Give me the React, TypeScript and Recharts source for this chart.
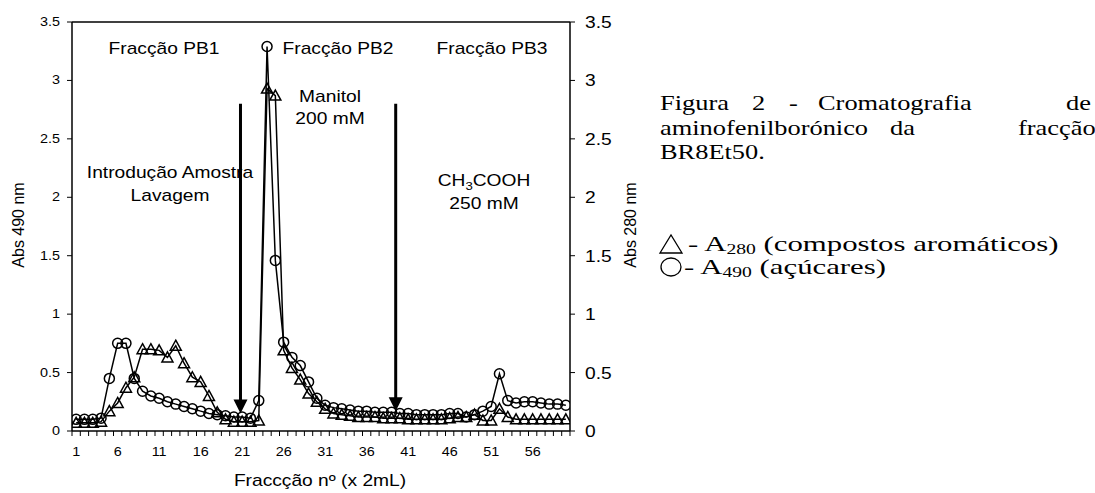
import React from 'react'
import { LineChart, Line, XAxis, YAxis, ReferenceLine } from 'recharts'

// fraction numbers (x 2 mL)
const fractions = Array.from({ length: 60 }, (_, i) => i + 1)

// Abs 490 nm (circles) - sugars
const a490 = [
  0.1, 0.1, 0.1, 0.11, 0.45, 0.75, 0.75, 0.45, 0.34, 0.3,
  0.28, 0.25, 0.23, 0.21, 0.19, 0.17, 0.15, 0.14, 0.13, 0.12,
  0.12, 0.11, 0.26, 3.29, 1.46, 0.76, 0.63, 0.56, 0.42, 0.28,
  0.22, 0.2, 0.19, 0.18, 0.17, 0.17, 0.16, 0.16, 0.16, 0.15,
  0.15, 0.14, 0.14, 0.14, 0.14, 0.15, 0.15, 0.12, 0.14, 0.17,
  0.21, 0.49, 0.26, 0.24, 0.25, 0.25, 0.24, 0.23, 0.23, 0.22,
]

// Abs 280 nm (triangles) - aromatics
const a280 = [
  0.07, 0.07, 0.07, 0.08, 0.17, 0.24, 0.37, 0.46, 0.7, 0.7,
  0.69, 0.63, 0.73, 0.58, 0.46, 0.42, 0.3, 0.16, 0.1, 0.08,
  0.08, 0.08, 0.09, 2.93, 2.87, 0.69, 0.54, 0.44, 0.32, 0.25,
  0.19, 0.15, 0.14, 0.13, 0.12, 0.12, 0.12, 0.11, 0.11, 0.11,
  0.1, 0.1, 0.1, 0.1, 0.1, 0.11, 0.12, 0.12, 0.14, 0.09,
  0.09, 0.19, 0.12, 0.1, 0.1, 0.1, 0.1, 0.1, 0.1, 0.1,
]

const xLabelTicks = [1, 6, 11, 16, 21, 26, 31, 36, 41, 46, 51, 56]
const xBoundaryTicks = Array.from({ length: 61 }, (_, i) => i + 0.5)
const yTicks = [0, 0.5, 1, 1.5, 2, 2.5, 3, 3.5]

// arrows marking buffer changes (fraction, top, tip)
const arrows = [
  { x: 20.8, top: 2.8, tip: 0.15 },
  { x: 39.5, top: 2.8, tip: 0.17 },
]

const chartData = fractions.map((f, i) => ({ f, a490: a490[i], a280: a280[i] }))

const SANS = '"Liberation Sans", Arial, Helvetica, sans-serif'
const SERIF = '"Liberation Serif", "Times New Roman", serif'
const SX = 1.2
const CAP_SX = 1.2
const LEG_SX = 1.4

const XTick = ({ x, y, payload }: any) => {
  const v = payload.value
  if (v % 1 !== 0) return <line x1={x} x2={x} y1={y} y2={y + 5} stroke="#000" strokeWidth={1} />
  return (
    <text transform={`translate(${x},${y + 25}) scale(${SX},1)`} textAnchor="middle" fontSize={12} fontFamily={SANS} fill="#000">
      {v}
    </text>
  )
}

const LeftTick = ({ x, y, payload }: any) => (
  <text transform={`translate(${x},${y + 4}) scale(${SX},1)`} textAnchor="end" fontSize={12} fontFamily={SANS} fill="#000">
    {payload.value}
  </text>
)

const RightTick = ({ x, y, payload }: any) => (
  <text transform={`translate(${x},${y + 6}) scale(${SX},1)`} textAnchor="start" fontSize={16} fontFamily={SANS} fill="#000">
    {payload.value}
  </text>
)

const CircleDot = (props: any) => {
  const { cx, cy, index } = props
  if (cx == null || cy == null) return <g key={index} />
  return <circle key={index} cx={cx} cy={cy} r={5} fill="none" stroke="#000" strokeWidth={1.5} />
}

const TriangleDot = (props: any) => {
  const { cx, cy, index } = props
  if (cx == null || cy == null) return <g key={index} />
  const pts = `${cx},${cy - 5.5} ${cx + 5.5},${cy + 4.5} ${cx - 5.5},${cy + 4.5}`
  return <polygon key={index} points={pts} fill="none" stroke="#000" strokeWidth={1.5} />
}

const Arrow = (props: any) => {
  const { x1, y1, x2, y2 } = props
  if (x1 == null) return null
  return (
    <g>
      <line x1={x1} y1={y1} x2={x2} y2={y2 - 12} stroke="#000" strokeWidth={3} />
      <polygon points={`${x2 - 7},${y2 - 14} ${x2 + 7},${y2 - 14} ${x2},${y2}`} fill="#000" />
    </g>
  )
}

const T = ({ x, y, size = 16, anchor = 'middle', children }: any) => (
  <text transform={`translate(${x},${y}) scale(${SX},1)`} textAnchor={anchor} fontSize={size} fontFamily={SANS} fill="#000">
    {children}
  </text>
)

const W = ({ x, y, sx = CAP_SX, children }: any) => (
  <text transform={`translate(${x},${y}) scale(${sx},1)`} fontSize={22} fontFamily={SERIF} fill="#000">
    {children}
  </text>
)

export default function App() {
  return (
    <div style={{ position: 'absolute', left: 0, top: 0, width: 1095, height: 493, background: '#fff', overflow: 'hidden' }}>
      <div style={{ position: 'absolute', left: 0, top: 0 }}>
        <LineChart width={640} height={493} data={chartData} margin={{ top: 22, right: 20, left: 32, bottom: 32 }}>
          <XAxis
            dataKey="f"
            type="number"
            domain={[0.5, 60.5]}
            ticks={[...xBoundaryTicks, ...xLabelTicks]}
            interval={0}
            tick={<XTick />}
            tickLine={false}
            tickSize={0}
            tickMargin={0}
            height={30}
            axisLine={{ stroke: '#000', strokeWidth: 1.5 }}
            allowDataOverflow
          />
          <YAxis
            yAxisId="left"
            domain={[0, 3.5]}
            ticks={yTicks}
            width={40}
            tickSize={5}
            tickMargin={7}
            tick={<LeftTick />}
            tickLine={{ stroke: '#000' }}
            axisLine={{ stroke: '#000', strokeWidth: 1.5 }}
            allowDataOverflow
          />
          <YAxis
            yAxisId="right"
            orientation="right"
            domain={[0, 3.5]}
            ticks={yTicks}
            width={50}
            tickSize={5}
            tickMargin={10}
            tick={<RightTick />}
            tickLine={{ stroke: '#000' }}
            axisLine={{ stroke: '#000', strokeWidth: 1.5 }}
            allowDataOverflow
          />
          <ReferenceLine yAxisId="left" y={3.5} stroke="#000" strokeWidth={1.5} />
          {arrows.map((a, i) => (
            <ReferenceLine
              key={i}
              yAxisId="left"
              segment={[{ x: a.x, y: a.top }, { x: a.x, y: a.tip }]}
              shape={<Arrow />}
            />
          ))}
          <Line
            yAxisId="right"
            dataKey="a280"
            stroke="#000"
            strokeWidth={1.5}
            dot={TriangleDot}
            isAnimationActive={false}
          />
          <Line
            yAxisId="left"
            dataKey="a490"
            stroke="#000"
            strokeWidth={1.5}
            dot={CircleDot}
            isAnimationActive={false}
          />
        </LineChart>
      </div>
      <svg width={1095} height={493} style={{ position: 'absolute', left: 0, top: 0, pointerEvents: 'none' }}>
        <T x={164} y={54}>Fracção PB1</T>
        <T x={338} y={54}>Fracção PB2</T>
        <T x={492} y={54}>Fracção PB3</T>
        <T x={330} y={102}>Manitol</T>
        <T x={330} y={124}>200 mM</T>
        <T x={170} y={178}>Introdução Amostra</T>
        <T x={170} y={201}>Lavagem</T>
        <text transform={`translate(484,186) scale(${SX},1)`} textAnchor="middle" fontSize={16} fontFamily={SANS}>
          CH<tspan fontSize={11} dy={4}>3</tspan>
          <tspan dy={-4}>COOH</tspan>
        </text>
        <T x={484} y={209}>250 mM</T>
        <T x={320} y={486}>Fraccção nº (x 2mL)</T>
        <text transform="translate(24,225) rotate(-90)" textAnchor="middle" fontSize={16} fontFamily={SANS}>
          Abs 490 nm
        </text>
        <text transform="translate(636,225) rotate(-90)" textAnchor="middle" fontSize={16} fontFamily={SANS}>
          Abs 280 nm
        </text>

        <W x={660} y={110}>Figura</W>
        <W x={752} y={110}>2</W>
        <W x={789} y={110}>-</W>
        <W x={818} y={110}>Cromatografia</W>
        <W x={1066} y={110}>de</W>
        <W x={660} y={135}>aminofenilborónico</W>
        <W x={890} y={135}>da</W>
        <W x={1018} y={135}>fracção</W>
        <W x={660} y={159}>BR8Et50.</W>

        <polygon points="660,253 682,253 671,235" fill="none" stroke="#000" strokeWidth={1.3} />
        <W x={688} y={251} sx={LEG_SX}>
          - A<tspan fontSize={14} dy={3}>280</tspan>
          <tspan dy={-3}> (compostos aromáticos)</tspan>
        </W>
        <ellipse cx={671} cy={267} rx={10} ry={9} fill="none" stroke="#000" strokeWidth={1.3} />
        <W x={684} y={274} sx={LEG_SX}>
          - A<tspan fontSize={14} dy={3}>490</tspan>
          <tspan dy={-3}> (açúcares)</tspan>
        </W>
      </svg>
    </div>
  )
}
